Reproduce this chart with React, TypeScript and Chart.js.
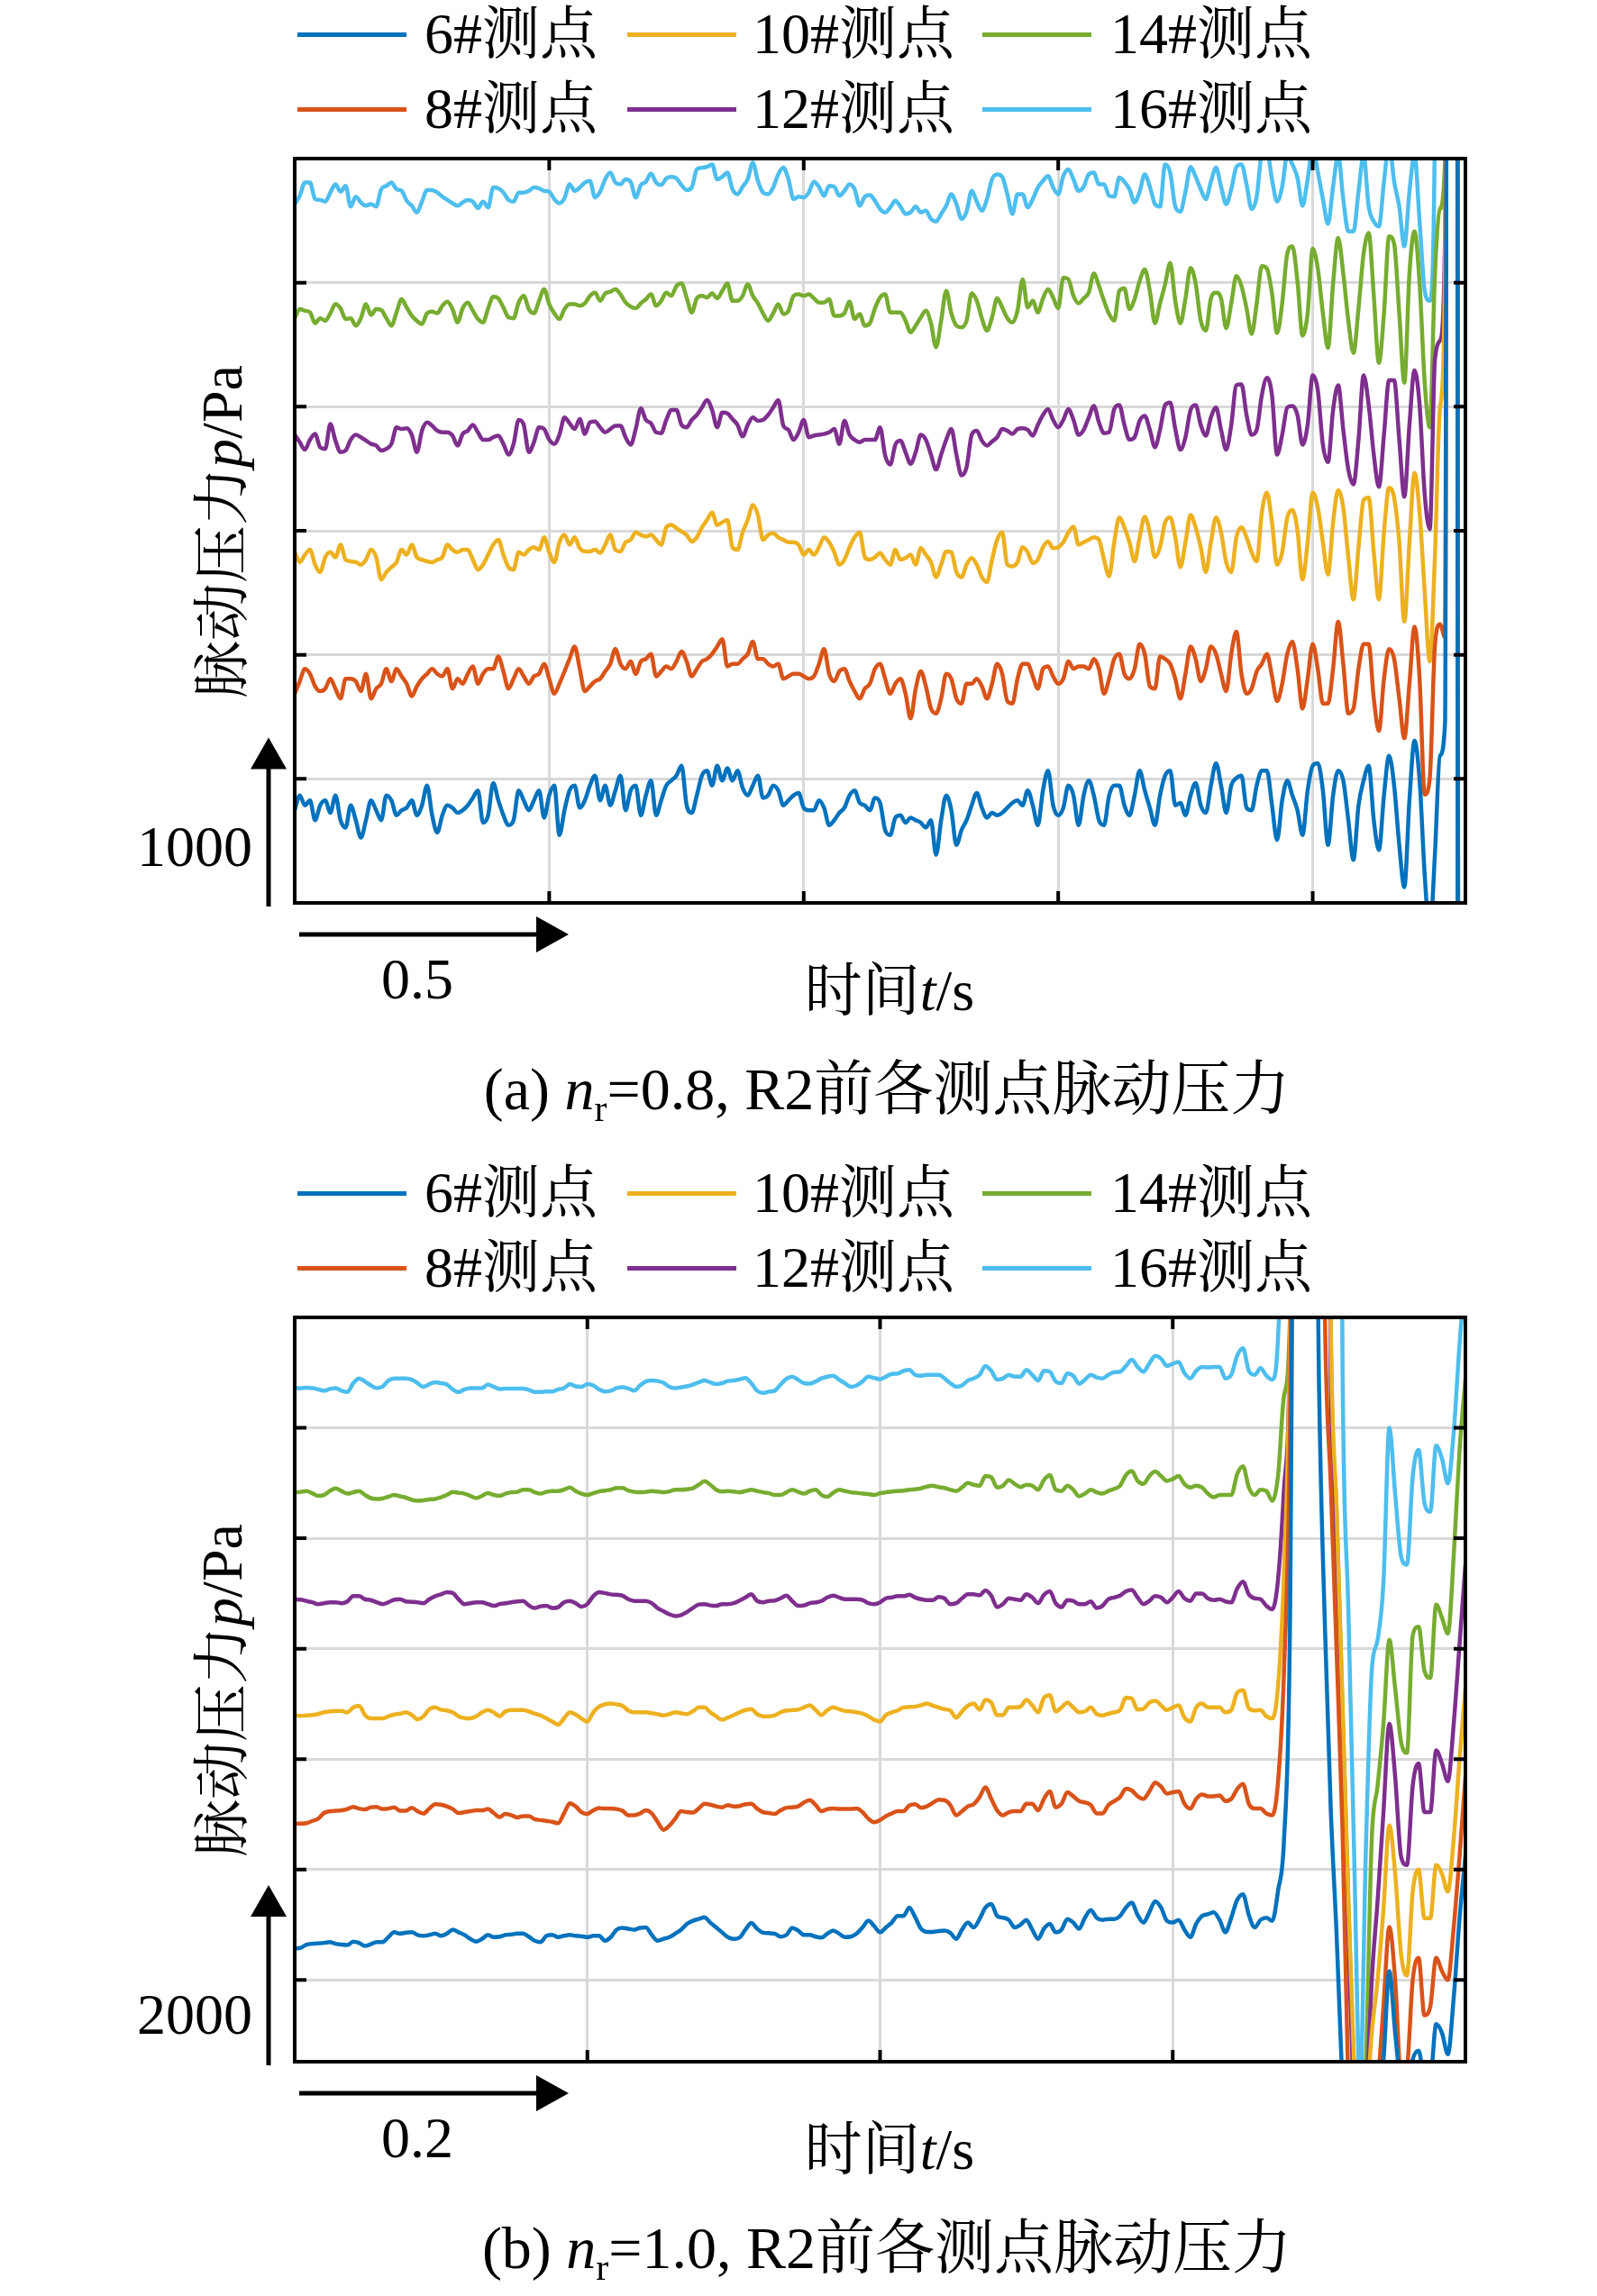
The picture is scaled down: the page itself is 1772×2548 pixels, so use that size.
import React, { useEffect, useRef } from 'react';
import { Chart, registerables } from 'chart.js';

Chart.register(...registerables);

const FONT = '"Liberation Serif", "Times New Roman", "Noto Serif CJK SC", "Noto Sans CJK SC", serif';

const SERIES_LABELS = ['6#测点', '8#测点', '10#测点', '12#测点', '14#测点', '16#测点'];
const SERIES_COLORS = ['#0072BD', '#D95319', '#EDB120', '#7E2F8E', '#77AC30', '#4DBEEE'];

// ---------- (a) n_r = 0.8, sampled every 0.01 s, 0 .. 2.30 s ----------
const T_A = Array.from({ length: 231 }, (_, i) => Math.round(i * 10) / 1000);
const OFFSET_A = [590, 1355, 2090, 2830, 3595, 4270];
const X_TICKS_A = [0.5, 1.0, 1.5, 2.0];
const Y_TICKS_A = [750, 1500, 2250, 3000, 3750];

const A6 = [
  -30, 60, 0, 30, -90, 0, 30, -45, 60, -90,
  -135, 0, -90, -195, -90, 30, -30, -90, 60, 30,
  -60, -30, -15, 30, -60, 0, 120, -60, -165, -60,
  0, -15, -45, -30, 0, 45, 90, -105, -60, 135,
  30, -60, -120, -90, 90, 30, -30, 30, 90, -75,
  60, 120, -180, -30, 90, 120, -15, 30, 120, 180,
  30, 120, 0, 90, 180, -30, 90, 120, -60, 60,
  150, -60, 30, 120, 150, 180, 240, 0, -45, 60,
  180, 210, 120, 240, 150, 225, 150, 210, 105, 60,
  120, 180, 45, 60, 120, 90, 0, 30, 60, 75,
  -15, -30, -30, 30, -15, -120, -90, -45, -15, 60,
  90, 15, 0, -30, 45, 15, -150, -180,
  -75, -60, -105, -75, -90, -105, -135, -90, -300, -90,
  60, -30, -240, -150, -90, 0, 75, -15, -75, -45,
  -60, -45, -15, 15, 30, 0, 90, 0, -120, 90,
  210, 0, -60, -15, 120, 60, -120, 60, 150, 60,
  -90, -120, 60, 120, 120, 0, -60, 60, 210, 90,
  -15, -120, 60, 180, 210, 0, 15, -60, 60, 135,
  0, -45, 120, 255, 120, -45, 120, 165, 180, -15,
  -30, 120, 210, 210, 0, -210, 30, 150, 60, -30,
  -180, 90, 240, 255, 90, -240, 60, 210, 150, -90,
  -330, 0, 150, 240, -90, -270, 60, 300, 120, -240,
  -495, 30, 390, 150, -420, -780, -300, 300, 500, 20000,
  20000, -20000, -20000,
];
const A8 = [
  -90, -15, 60, 30, -45, -75, -60, 0, -60, -120,
  0, 0, -15, -75, 30, -120, -60, -30, 60, -15,
  60, 15, -30, -105, -45, 0, 30, 60, 30, 15,
  60, -60, 0, -30, 30, 75, -30, 30, 60, 60,
  135, 45, -60, 0, 60, 15, -30, 15, 30, 90,
  0, -90, -30, 45, 120, 195, 60, -75, -45, -15,
  0, 45, 90, 180, 90, 60, 105, 30, 105, 120,
  150, 15, 45, 75, 60, 105, 165, 105, 15, 60,
  105, 120, 150, 195, 240, 75, 90, 90, 120, 150,
  225, 120, 120, 90, 75, 90, 0, 15, 30, 30,
  15, 0, 15, 90, 180, 30, -15, 45, 60, -15,
  -75, -120, -60, -30, 60, 90, 0, -90,
  -30, 0, -90, -240, -60, 45, -45, -180, -210, -120,
  30, 0, -120, -150, -30, -30, 0, -45, -120, -30,
  90, 30, -135, -150, 0, 90, 90, 15, -60, 60,
  75, 15, -30, 0, 105, 60, 75, 75, 60, 120,
  60, -90, 0, 120, 150, 30, 0, 60, 210, 150,
  -45, -60, 135, 120, 90, 0, -120, 30, 195, 120,
  -15, 60, 195, 150, 30, -75, 150, 285, 30, -90,
  -60, 45, 90, 150, 15, -135, -30, 150, 225, 60,
  -180, 0, 210, 60, -150, -150, 60, 345, 90, -210,
  -180, 60, 210, 210, -120, -315, 0, 180, 120, -120,
  -360, -30, 315, 0, -700, -600, 200, 330, 250, 20000,
  20000, -20000, -20000,
];
const A10 = [
  30, -30, 15, 45, -45, -90, 0, 30, 0, 75,
  -15, -25, -30, -45, -15, 45, 0, -135, -90, -60,
  -30, 45, 15, 75, 0, -15, -25, -30, -15, 0,
  75, 45, 30, 45, 45, -15, -75, -45, 15, 75,
  105, 15, -60, -75, 30, 15, 45, 60, 45, 120,
  30, -30, 90, 135, 75, 120, 55, 35, 35, 45,
  25, 75, 135, 45, 35, 90, 105, 150, 135, 125,
  135, 105, 75, 180, 195, 175, 155, 135, 95, 120,
  180, 225, 270, 195, 210, 225, 60, 45, 150, 225,
  315, 255, 105, 135, 145, 120, 105, 90, 90, 75,
  15, 45, 15, 60, 120, 90, 30, -45, -15, 60,
  120, 150, 0, -15, 0, 25, -15, -45,
  45, -15, -5, 15, -45, 55, 15, -30, -120, -45,
  35, 30, -90, -120, -45, -5, -45, -120, -150, -15,
  105, 150, -45, -55, -30, 60, 30, -35, -15, 60,
  95, 55, 60, 90, 150, 185, 75, 90, 105, 120,
  105, -15, -115, 90, 240, 180, 90, -25, 120, 245,
  150, 0, 60, 210, 240, 120, -60, 90, 255, 180,
  60, -90, 90, 240, 150, -30, -90, 120, 180, 120,
  30, -25, 270, 390, 210, -45, 30, 240, 285, 165,
  -135, 90, 390, 300, 90, -105, 210, 405, 300, 0,
  -255, 60, 345, 360, 30, -255, 150, 420, 360, 90,
  -390, 90, 510, 270, -210, -630, 0, 900, 1800, 20000,
  20000, -20000, -20000,
];
const A12 = [
  0, -45, -90, -30, 5, -75, -85, 65, -35, -105,
  -95, -30, 0, -15, -35, -55, -65, -95, -85, -55,
  45, 35, 40, 0, -105, 25, 75, 55, 25, 15,
  15, -5, -65, 5, 25, 60, 15, -30, -30, -15,
  -5, -55, -120, -55, 90, 60, -105, -45, 45, 35,
  -30, -55, 0, 105, 70, 35, 95, 5, 75, 80,
  45, 15, 35, 55, 55, -15, -60, 35, 160, 90,
  70, 15, 10, 90, 150, 150, 60, 45, 90, 120,
  165, 210, 150, 45, 135, 130, 95, 60, -10, 60,
  105, 85, 90, 120, 165, 210, 55, 30, -30, 15,
  90, -15, -5, 0, 5, 15, 35, -55, 85, 0,
  -30, -45, -30, -30, -30, 45, -125, -180,
  -60, -35, -105, -175, -105, 0, -30, -120, -210, -120,
  -30, 35, -120, -245, -195, 0, 25, -35, -65, -40,
  -15, 35, 25, 5, 35, 40, 30, -5, 60, 120,
  155, 90, 45, 90, 155, 90, 0, 30, 105, 175,
  75, 10, 15, 155, 180, 60, -30, -15, 85, 115,
  30, -75, 30, 180, 195, 35, -90, -15, 150, 180,
  60, -5, 105, 165, 30, -90, 60, 300, 305, 120,
  0, 30, 240, 345, 240, -120, 0, 165, 175, 120,
  -60, 60, 360, 270, -60, -165, 150, 300, 30, -210,
  -300, -30, 360, 180, -120, -315, 0, 330, 330, -30,
  -375, 60, 390, 180, -360, -570, 450, 570, 1200, 20000,
  20000, -20000, -20000,
];
const A14 = [
  -60, -5, -15, -25, -90, -60, -75, -30, 25, 0,
  -65, -60, -105, -60, 25, -40, -5, -10, -60, -105,
  -25, 55, 5, -45, -75, -95, -30, -20, -30, 15,
  40, -5, -85, 0, 35, -15, -65, -85, 0, 70,
  60, 5, -55, -60, 35, 75, -5, -30, 45, 115,
  25, -30, -65, -5, 25, 25, 15, 30, 75, 95,
  45, 90, 100, 115, 85, 35, 10, 0, 30, 55,
  85, 15, 45, 95, 75, 135, 150, 65, -25, 60,
  75, 65, 90, 60, 105, 150, 45, 45, 75, 145,
  75, 30, -30, -75, -30, 25, -35, -15, 75, 85,
  75, 85, 60, 35, 35, 55, -45, -45, -30, 40,
  -65, -35, -105, -90, 0, 65, 85, -25,
  -25, -25, -75, -145, -105, -55, -15, -90, -235, -75,
  105, -30, -105, -115, -75, 90, 45, -60, -135, -55,
  60, 5, -60, -85, -15, 175, 5, 45, -25, 60,
  115, 65, 0, 185, 175, 75, 30, 60, 95, 210,
  135, 45, -35, -75, 105, 120, -5, 55, 165, 235,
  105, -90, 30, 145, 275, 45, -90, 60, 245, 150,
  -75, -135, 60, 95, 60, -120, 30, 195, 135, 0,
  -155, 30, 255, 240, 90, -150, 30, 330, 375, 165,
  -165, -30, 360, 240, -30, -240, 150, 425, 210, -75,
  -270, 0, 330, 455, 75, -330, -30, 435, 390, -30,
  -450, 210, 465, 150, -450, -720, 200, 600, 900, 20000,
  20000, -20000, -20000,
];
const A16 = [
  -45, 5, 85, 85, -15, -20, -30, 25, 75, 30,
  65, -60, 0, -35, -55, -45, -60, 45, 65, 85,
  45, 35, -25, -55, -95, -30, 40, 40, 25, 0,
  -20, -40, -55, -35, -20, -30, -70, -30, -65, 55,
  50, 25, -20, -30, 25, 25, 35, 55, 50, 35,
  30, -15, -40, -10, 75, 35, 55, 85, 95, -5,
  30, 105, 145, 85, 75, 105, 90, -5, 70, 90,
  140, 85, 70, 110, 120, 110, 70, 40, 55, 165,
  175, 180, 195, 105, 120, 145, 45, 15, 60, 105,
  205, 95, 25, 15, 55, 135, 175, 105, -15, 0,
  -5, 25, 90, 60, 5, 65, 60, 5, 35, 75,
  45, -55, 0, 10, -25, -75, -95, -65,
  -25, -60, -105, -95, -60, -95, -85, -135, -150, -105,
  -55, 15, -45, -135, -90, 35, -30, -85, -15, 105,
  135, 120, 15, -105, 15, 15, -65, -15, 55, 95,
  125, 55, 15, 125, 165, 105, 35, 60, 135, 145,
  75, 75, 5, 0, 115, 90, 45, -35, 30, 135,
  60, -45, -60, 195, 145, -60, -90, 30, 180, 120,
  45, -15, 90, 175, 60, -45, 45, 180, 195, 75,
  -75, 0, 260, 280, 105, -30, 60, 250, 195, 115,
  -55, 105, 300, 150, -15, -165, 60, 250, -15, -210,
  -210, 30, 250, -60, -150, -180, 90, 320, 90, -60,
  -300, 30, 250, -150, -570, -630, 400, 20000, 20000, 20000,
  20000, -20000, -20000,
];

// ---------- (b) n_r = 1.0, sampled every 0.004 s, 0 .. 0.80 s ----------
const T_B = Array.from({ length: 201 }, (_, i) => Math.round(i * 4) / 1000);
const OFFSET_B = [400, 1900, 3000, 4270, 5520, 6700];
const X_TICKS_B = [0.2, 0.4, 0.6];
const Y_TICKS_B = [0, 1250, 2500, 3750, 5000, 6250];

const B6 = [
  -45, -35, 0, 10, 15, 20, 30, 10, 0, -5,
  35, 20, -15, 5, 30, 30, 85, 140, 125, 135,
  140, 110, 100, 110, 125, 100, 125, 170, 140, 110,
  65, 35, 65, 110, 85, 90, 110, 115, 125, 125,
  90, 45, 30, 100, 110, 85, 100, 110, 100, 95,
  85, 100, 100, 45, 85, 170, 190, 180, 170, 190,
  195, 110, 45, 65, 85, 125, 170, 235, 270, 290,
  310, 250, 195, 140, 85, 65, 80, 170, 245, 180,
  135, 130, 125, 90, 110, 190, 160, 110, 110, 90,
  80, 125, 160, 125, 85, 90, 125, 195, 270, 210,
  140, 195, 250, 325,
  325, 420, 310, 180, 145, 145, 155, 160, 135, 65,
  170, 250, 195, 290, 420, 460, 325, 305, 280, 195,
  225, 280, 170, 65, 180, 235, 140, 170, 290, 250,
  180, 305, 390, 305, 280, 290, 290, 325, 420, 475,
  335, 250, 365, 490, 420, 270, 250, 280, 170, 85,
  235, 325, 345, 365, 280, 140, 305, 505, 570, 335,
  195, 280, 305, 270,
  615, 1175, 3470, 12000, 12000, 12000, 12000, 6300, 3600, 1530,
  100, -1600, -2900, -3400, -3400, -2900, -2400, -1700, -1300, -300,
  -1000, -1600, -1700, -1300, -1200, -1500, -1500, -900, -1000, -1240,
  -600, 300, 1000,
];
const B8 = [
  -130, -130, -125, -100, -75, -10, 10, 15, 20, 35,
  60, 40, 30, 55, 60, 35, 40, 55, 15, 15,
  50, 10, -15, 40, 90, 85, 65, 35, -10, 0,
  10, 20, 20, 35, -10, -55, -20, -35, -60, -45,
  -45, -80, -90, -100, -110, -125, -15, 100, 65, 0,
  -20, 20, 45, 40, 40, 35, 15, -35, -35, -15,
  20, -15, -110, -200, -155, -75, 10, 0, -5, 40,
  95, 85, 65, 55, 80, 65, 70, 90, 95, 40,
  0, -10, -20, 20, 50, 55, 65, 110, 135, 80,
  10, 35, 40, 35, 35, 35, 40, 0, -75, -115,
  -90, -45, -15, 10,
  10, 75, 90, 50, 65, 105, 140, 135, 80, -35,
  10, 65, 90, 170, 280, 150, 20, -35, 0, 10,
  10, 95, 95, 20, 150, 235, 55, 95, 225, 180,
  125, 110, 80, -15, -15, 80, 125, 170, 265, 245,
  180, 150, 235, 335, 290, 210, 225, 235, 95, 40,
  150, 200, 180, 180, 190, 125, 150, 260, 320, 95,
  40, 40, -15, -35,
  350, 1580, 4210, 12000, 12000, 12000, 12000, 12000, 5600, 3700,
  1800, -200, -3100, -4400, -4900, -4400, -3700, -3100, -2200, -1300,
  -1900, -3000, -2900, -1900, -1650, -2300, -2200, -1650, -1800, -1900,
  -1300, -500, 400,
];
const B10 = [
  0, -10, -5, 0, 10, 30, 40, 45, 45, 30,
  85, 105, 0, -40, -40, -40, -15, 5, 15, 30,
  0, -50, -15, 65, 85, 60, 50, 30, -15, -35,
  -40, -15, 30, 55, 30, -15, 40, 55, 55, 55,
  40, 15, -5, -40, -75, -110, -40, 30, 5, -40,
  -75, 30, 95, 120, 130, 120, 105, 50, 30, 30,
  30, 20, 10, -5, 10, 30, 20, 10, 40, 85,
  85, 30, -15, -55, -30, 0, 30, 55, 65, 10,
  -15, -15, -5, 30, 50, 55, 60, 85, 110, 55,
  0, 55, 85, 65, 45, 40, 30, 15, -15, -55,
  -75, 0, 30, 50,
  85, 90, 95, 110, 130, 105, 85, 65, 50, -30,
  40, 105, 130, 60, 170, 140, 0, 0, 85, 85,
  95, 170, 110, 30, 195, 225, 40, 85, 140, 85,
  30, 40, 85, 10, -5, 15, 30, 55, 195, 185,
  60, 70, 140, 160, 110, 55, 85, 110, -30, -75,
  85, 130, 85, 85, 85, 30, 55, 250, 280, 75,
  50, 55, -15, -40,
  335, 1600, 4230, 12000, 12000, 12000, 12000, 12000, 12000, 4400,
  2300, 100, -2100, -4000, -5000, -4500, -3600, -3000, -2200, -1250,
  -1800, -2700, -2950, -2000, -1750, -2300, -2300, -1700, -1800, -2000,
  -1400, -500, 300,
];
const B12 = [
  40, 35, 20, 5, -15, -5, 5, 5, -5, 15,
  75, 75, 40, 30, 5, -15, 5, 35, 40, 15,
  10, 5, -5, 40, 75, 95, 120, 110, 40, -15,
  -5, 5, 5, -15, -35, -15, -5, 5, 15, 20,
  -30, -60, -40, -35, -60, -50, 5, 20, -5, -45,
  -15, 75, 120, 110, 95, 90, 80, 40, 20, 20,
  20, -5, -60, -95, -130, -150, -140, -105, -60, -20,
  -15, -30, -35, -15, -15, -5, 25, 60, 95, 20,
  5, 20, 25, 50, 80, 20, -35, -30, -5, 5,
  20, 60, 80, 60, 40, 40, 40, 30, -5, -15,
  5, 50, 60, 75,
  75, 90, 60, 40, 30, 30, 65, 50, -15, -5,
  50, 95, 95, 85, 140, 80, -50, -15, 50, 40,
  30, 95, 60, -5, 90, 130, -5, -50, 30, 20,
  -15, -15, 15, -60, -35, 40, 60, 80, 130, 145,
  60, -15, 20, 75, 60, 5, 60, 130, 50, 20,
  105, 105, 50, 30, 40, 15, 5, 160, 240, 95,
  50, 40, -35, -75,
  270, 1280, 2960, 12000, 12000, 12000, 12000, 12000, 12000, 2530,
  530, -1570, -3770, -5770, -6770, -5770, -4270, -3370, -2370, -1370,
  -1970, -2870, -2970, -2070, -1820, -2370, -2370, -1670, -1820, -2020,
  -1370, -470, 430,
];
const B14 = [
  0, 5, 15, -10, -40, -30, 15, 45, 15, -15,
  0, 15, -30, -65, -75, -70, -50, -30, -45, -60,
  -85, -95, -90, -80, -75, -55, -30, 5, -5, -15,
  -40, -65, -40, -10, -30, -40, -15, 0, 5, 30,
  30, 0, -15, 5, 15, 15, 30, 55, 15, -15,
  -30, -10, 10, 20, 30, 50, 50, 20, 5, 0,
  5, 15, 10, 0, 10, 30, 30, 35, 45, 85,
  125, 85, 30, 10, 15, 10, 0, 15, 30, 15,
  0, -10, -30, -30, 0, 30, 5, -15, 15, 30,
  -30, -50, -5, 30, 15, 0, -5, -15, -20, -30,
  -10, 0, 10, 15,
  20, 30, 35, 45, 65, 75, 60, 50, 30, 15,
  55, 105, 85, 75, 185, 170, 55, 75, 140, 95,
  60, 85, 75, 30, 140, 195, 30, 15, 75, 30,
  -45, -15, 30, 0, -15, 15, 40, 75, 195, 240,
  130, 95, 185, 235, 185, 130, 150, 185, 95, 55,
  75, 55, -15, -55, -30, -30, -30, 205, 295, 55,
  -30, 30, 15, -95,
  195, 1090, 1930, 12000, 12000, 12000, 12000, 12000, 12000, 1880,
  -220, -2420, -4620, -6520, -7020, -6420, -3920, -3320, -2620, -1670,
  -2220, -2820, -2950, -1620, -1520, -2020, -2100, -1270, -1420, -1600,
  -720, 480, 1280,
];
const B16 = [
  0, 0, 5, 0, -15, -30, -10, 0, -30, -45,
  55, 110, 75, 30, 0, 15, 85, 110, 110, 110,
  95, 55, 15, 45, 65, 55, 40, -15, -45, -15,
  0, 0, 0, 40, 15, -10, -5, -5, -5, -5,
  -20, -45, -45, -40, -40, -15, 0, 45, 20, 15,
  45, 30, -15, -40, -30, 0, 10, -5, -30, 30,
  75, 85, 80, 60, 15, 0, 10, 20, 40, 65,
  85, 65, 45, 55, 80, 85, 100, 115, 55, -30,
  -55, -40, -30, 40, 105, 130, 95, 55, 50, 75,
  110, 130, 140, 95, 55, 15, 30, 75, 130, 115,
  100, 130, 160, 165,
  195, 205, 150, 140, 150, 150, 150, 110, 55, 15,
  30, 85, 110, 150, 250, 195, 95, 110, 150, 130,
  130, 205, 150, 85, 195, 185, 75, 55, 165, 140,
  50, 95, 150, 120, 110, 150, 180, 185, 250, 320,
  240, 185, 280, 365, 335, 250, 275, 295, 170, 110,
  195, 240, 235, 240, 240, 110, 150, 365, 450, 195,
  150, 225, 140, 95,
  590, 3000, 12000, 12000, 12000, 12000, 12000, 12000, 12000, 12000,
  12000, 300, -2500, -5300, -7900, -5200, -3200, -2850, -2200, -450,
  -1200, -1900, -2000, -1000, -700, -1300, -1400, -650, -800, -1080,
  -500, 500, 1300,
];

const SERIES_A = [A6, A8, A10, A12, A14, A16];
const SERIES_B = [B6, B8, B10, B12, B14, B16];

// page geometry of one panel (pixels, relative to the panel's top)
const PAGE_W = 1772;
const PANEL_H = 1284;
const PLOT = { left: 327, right: 1626, top: 176, bottom: 1002 };

const framePlugin = {
  id: 'frame',
  afterDatasetsDraw(chart: any, _args: any, opts: any) {
    const { ctx, chartArea, scales } = chart;
    const { left, right, top, bottom } = chartArea;
    const x = scales.x;
    const y = scales.y;
    ctx.save();
    ctx.strokeStyle = '#000';
    ctx.fillStyle = '#000';
    ctx.lineWidth = 4;
    ctx.beginPath();
    (opts.xTicks || []).forEach((v: number) => {
      const px = x.getPixelForValue(v);
      ctx.moveTo(px, bottom); ctx.lineTo(px, bottom - 13);
      ctx.moveTo(px, top); ctx.lineTo(px, top + 13);
    });
    (opts.yTicks || []).forEach((v: number) => {
      const py = y.getPixelForValue(v);
      ctx.moveTo(left, py); ctx.lineTo(left + 13, py);
      ctx.moveTo(right, py); ctx.lineTo(right - 13, py);
    });
    ctx.stroke();
    ctx.strokeRect(left, top, right - left, bottom - top);

    // vertical scale bar (pressure)
    const ax = left - 29;
    const yTip = y.getPixelForValue(y.min + opts.yBar);
    ctx.lineWidth = 5;
    ctx.beginPath();
    ctx.moveTo(ax, bottom + 4);
    ctx.lineTo(ax, yTip + 30);
    ctx.stroke();
    ctx.beginPath();
    ctx.moveTo(ax, yTip);
    ctx.lineTo(ax - 20, yTip + 35);
    ctx.lineTo(ax + 20, yTip + 35);
    ctx.closePath();
    ctx.fill();

    // horizontal scale bar (time)
    const ay = bottom + 35;
    const xTip = left + 304;
    ctx.beginPath();
    ctx.moveTo(left + 5, ay);
    ctx.lineTo(xTip - 30, ay);
    ctx.stroke();
    ctx.beginPath();
    ctx.moveTo(xTip, ay);
    ctx.lineTo(xTip - 36, ay - 20);
    ctx.lineTo(xTip - 36, ay + 20);
    ctx.closePath();
    ctx.fill();
    ctx.restore();
  },
};

interface PanelProps {
  top: number;
  times: number[];
  offsets: number[];
  series: number[][];
  xMax: number;
  xTicks: number[];
  yMin: number;
  yMax: number;
  yTicks: number[];
  yBar: number;
  yBarText: string;
  yBarTextY: number;
  xBarText: string;
  tag: string;
  nr: string;
}

const textBase: React.CSSProperties = {
  position: 'absolute',
  fontSize: 64,
  lineHeight: '64px',
  height: 64,
  whiteSpace: 'nowrap',
  color: '#000',
};

const Panel = (p: PanelProps) => {
  const canvasRef = useRef<HTMLCanvasElement>(null);

  useEffect(() => {
    if (!canvasRef.current) return;
    const chart = new Chart(canvasRef.current, {
      type: 'line',
      data: {
        datasets: p.series.map((vals, i) => ({
          label: SERIES_LABELS[i],
          data: p.times.map((t, j) => ({ x: t, y: p.offsets[i] + vals[j] })),
          borderColor: SERIES_COLORS[i],
          backgroundColor: SERIES_COLORS[i],
          borderWidth: 4.5,
          pointRadius: 0,
          cubicInterpolationMode: 'monotone',
          fill: false,
          borderJoinStyle: 'round',
          borderCapStyle: 'round',
        })),
      },
      options: {
        animation: false,
        responsive: false,
        maintainAspectRatio: false,
        events: [],
        layout: {
          padding: {
            left: PLOT.left,
            right: PAGE_W - PLOT.right,
            top: PLOT.top,
            bottom: PANEL_H - PLOT.bottom,
          },
        },
        plugins: {
          legend: { display: false },
          tooltip: { enabled: false },
          frame: { xTicks: p.xTicks, yTicks: p.yTicks, yBar: p.yBar },
        } as any,
        scales: {
          x: {
            type: 'linear',
            min: 0,
            max: p.xMax,
            afterBuildTicks: (axis: any) => { axis.ticks = p.xTicks.map((v) => ({ value: v })); },
            afterFit: (axis: any) => { axis.height = 0; },
            ticks: { display: false },
            grid: { color: '#d9d9d9', lineWidth: 3, drawTicks: false },
            border: { display: false },
          },
          y: {
            type: 'linear',
            min: p.yMin,
            max: p.yMax,
            afterBuildTicks: (axis: any) => { axis.ticks = p.yTicks.map((v) => ({ value: v })); },
            afterFit: (axis: any) => { axis.width = 0; },
            ticks: { display: false },
            grid: { color: '#d9d9d9', lineWidth: 3, drawTicks: false },
            border: { display: false },
          },
        },
      },
      plugins: [framePlugin],
    } as any);
    return () => chart.destroy();
  }, []);

  const legendCols = [
    { line: 330, text: 471 },
    { line: 696, text: 835 },
    { line: 1090, text: 1232 },
  ];
  const legendRows = [38, 121];

  return (
    <div style={{ position: 'absolute', left: 0, top: p.top, width: PAGE_W, height: PANEL_H }}>
      <canvas
        ref={canvasRef}
        width={PAGE_W}
        height={PANEL_H}
        style={{ position: 'absolute', left: 0, top: 0, width: PAGE_W, height: PANEL_H }}
      />
      {SERIES_LABELS.map((label, i) => {
        const col = legendCols[Math.floor(i / 2)];
        const rowY = legendRows[i % 2];
        return (
          <React.Fragment key={label}>
            <div style={{ position: 'absolute', left: col.line, top: rowY - 2, width: 121, height: 5, background: SERIES_COLORS[i] }} />
            <div style={{ ...textBase, left: col.text, top: rowY - 32 }}>{label}</div>
          </React.Fragment>
        );
      })}
      <div style={{ ...textBase, left: 60, width: 220, textAlign: 'right', top: p.yBarTextY - 32 }}>{p.yBarText}</div>
      <div style={{ ...textBase, left: 363, width: 200, textAlign: 'center', top: 1087 - 32 }}>{p.xBarText}</div>
      <div style={{ ...textBase, left: 787, width: 400, textAlign: 'center', top: 1100 - 32 }}>
        时间<i>t</i>/s
      </div>
      <div style={{ ...textBase, fontSize: 66, left: 384, width: 1200, textAlign: 'center', top: 1210 - 33 }}>
        {p.tag} <i>n</i>
        <sub style={{ fontSize: 42, lineHeight: 0, verticalAlign: '-0.3em' }}>r</sub>
        ={p.nr}, R2前各测点脉动压力
      </div>
      <div
        style={{
          ...textBase,
          left: 247 - 300,
          top: 590 - 32,
          width: 600,
          textAlign: 'center',
          transform: 'rotate(-90deg)',
          transformOrigin: '50% 50%',
        }}
      >
        脉动压力<i>p</i>/Pa
      </div>
    </div>
  );
};

export default function App() {
  return (
    <div
      style={{
        position: 'absolute',
        left: 0,
        top: 0,
        width: PAGE_W,
        height: 2548,
        background: '#fff',
        fontFamily: FONT,
        overflow: 'hidden',
      }}
    >
      <Panel
        top={0}
        times={T_A}
        offsets={OFFSET_A}
        series={SERIES_A}
        xMax={2.3}
        xTicks={X_TICKS_A}
        yMin={0}
        yMax={4500}
        yTicks={Y_TICKS_A}
        yBar={1000}
        yBarText="1000"
        yBarTextY={940}
        xBarText="0.5"
        tag="(a)"
        nr="0.8"
      />
      <Panel
        top={1286}
        times={T_B}
        offsets={OFFSET_B}
        series={SERIES_B}
        xMax={0.8}
        xTicks={X_TICKS_B}
        yMin={-925}
        yMax={7500}
        yTicks={Y_TICKS_B}
        yBar={2000}
        yBarText="2000"
        yBarTextY={950}
        xBarText="0.2"
        tag="(b)"
        nr="1.0"
      />
    </div>
  );
}
